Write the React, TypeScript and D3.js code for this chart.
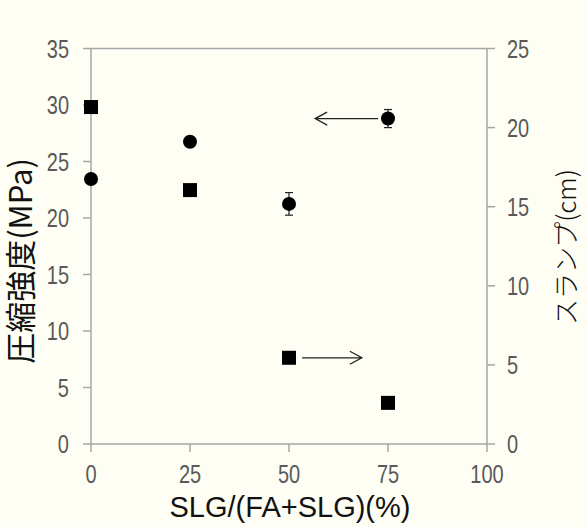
import React from "react";
import * as d3 from "d3";

const xTicks = [0, 25, 50, 75, 100];
const leftTicks = [0, 5, 10, 15, 20, 25, 30, 35];
const rightTicks = [0, 5, 10, 15, 20, 25];

const ratio = [0, 25, 50, 75];
const strength = [23.45, 26.75, 21.25, 28.8];
const strengthErr = [0, 0, 1.0, 0.8];
const slump = [21.3, 16.05, 5.45, 2.6];

const arrowStrength = { x1: 72.5, x2: 56.6, y: 28.8 };
const arrowSlump = { x1: 53.3, x2: 68.4, y: 5.45 };

const W = 587, H = 527;
const m = { left: 91, right: 487, top: 48.5, bottom: 444 };

export default function App() {
  const x = d3.scaleLinear().domain([0, 100]).range([m.left, m.right]);
  const yL = d3.scaleLinear().domain([0, 35]).range([m.bottom, m.top]);
  const yR = d3.scaleLinear().domain([0, 25]).range([m.bottom, m.top]);
  const axisColor = "#a6a6a6";
  const tickFont = "'Liberation Sans', Arial, sans-serif";
  const tickColor = "#595959";
  const tickSize = 25;
  const sx = 0.8;
  const arrowPath = (x1: number, x2: number, y: number) => {
    const dir = x2 > x1 ? 1 : -1;
    const hx = 12, hy = 6.5;
    return `M${x1},${y}H${x2}M${x2 - dir * hx},${y - hy}L${x2},${y}L${x2 - dir * hx},${y + hy}`;
  };
  const tick = (key: string, tx: number, ty: number, anchor: string, label: number) => (
    <text key={key} transform={`translate(${tx},${ty}) scale(${sx},1)`} textAnchor={anchor} fontFamily={tickFont} fontSize={tickSize} fill={tickColor}>{label}</text>
  );
  return (
    <svg width={W} height={H} style={{ position: "absolute", left: 0, top: 0, background: "#fefef4" }}>
      <rect x={0} y={0} width={W} height={H} fill="#fefef4" />
      <rect x={m.left} y={m.top} width={m.right - m.left} height={m.bottom - m.top} fill="none" stroke={axisColor} strokeWidth={1.5} />
      {leftTicks.map((t) => (
        <g key={"l" + t}>
          <line x1={m.left - 8} x2={m.left} y1={yL(t)} y2={yL(t)} stroke={axisColor} strokeWidth={1.5} />
          {tick("lt" + t, 69, yL(t) + 9, "end", t)}
        </g>
      ))}
      {rightTicks.map((t) => (
        <g key={"r" + t}>
          <line x1={m.right} x2={m.right + 8} y1={yR(t)} y2={yR(t)} stroke={axisColor} strokeWidth={1.5} />
          {tick("rt" + t, 507, yR(t) + 9, "start", t)}
        </g>
      ))}
      {xTicks.map((t) => (
        <g key={"x" + t}>
          <line x1={x(t)} x2={x(t)} y1={m.bottom} y2={m.bottom + 8} stroke={axisColor} strokeWidth={1.5} />
          {tick("xt" + t, x(t), 483, "middle", t)}
        </g>
      ))}
      <text x={290} y={517} textAnchor="middle" fontFamily="'Liberation Sans', Arial, sans-serif" fontSize={29} fill="#111">SLG/(FA+SLG)(%)</text>
      <text transform="translate(32,261) rotate(-90)" textAnchor="middle" fontFamily="'Noto Sans CJK JP', sans-serif" fontSize={31} fill="#111">圧縮強度(MPa)</text>
      <text transform="translate(576,247) rotate(-90)" textAnchor="middle" fontFamily="'Noto Sans CJK JP', sans-serif" fontWeight={300} fontSize={26} fill="#111">スランプ(cm)</text>
      {ratio.map((r, i) =>
        strengthErr[i] > 0 ? (
          <g key={"e" + i} stroke="#222" strokeWidth={1.2}>
            <line x1={x(r)} x2={x(r)} y1={yL(strength[i] - strengthErr[i])} y2={yL(strength[i] + strengthErr[i])} />
            <line x1={x(r) - 4} x2={x(r) + 4} y1={yL(strength[i] - strengthErr[i])} y2={yL(strength[i] - strengthErr[i])} />
            <line x1={x(r) - 4} x2={x(r) + 4} y1={yL(strength[i] + strengthErr[i])} y2={yL(strength[i] + strengthErr[i])} />
          </g>
        ) : null
      )}
      {ratio.map((r, i) => (
        <circle key={"c" + i} cx={x(r)} cy={yL(strength[i])} r={7} fill="#000" />
      ))}
      {ratio.map((r, i) => (
        <rect key={"s" + i} x={x(r) - 7} y={yR(slump[i]) - 7} width={14} height={14} fill="#000" />
      ))}
      <path d={arrowPath(x(arrowStrength.x1), x(arrowStrength.x2), yL(arrowStrength.y))} fill="none" stroke="#222" strokeWidth={1.3} />
      <path d={arrowPath(x(arrowSlump.x1), x(arrowSlump.x2), yR(arrowSlump.y))} fill="none" stroke="#222" strokeWidth={1.3} />
    </svg>
  );
}
